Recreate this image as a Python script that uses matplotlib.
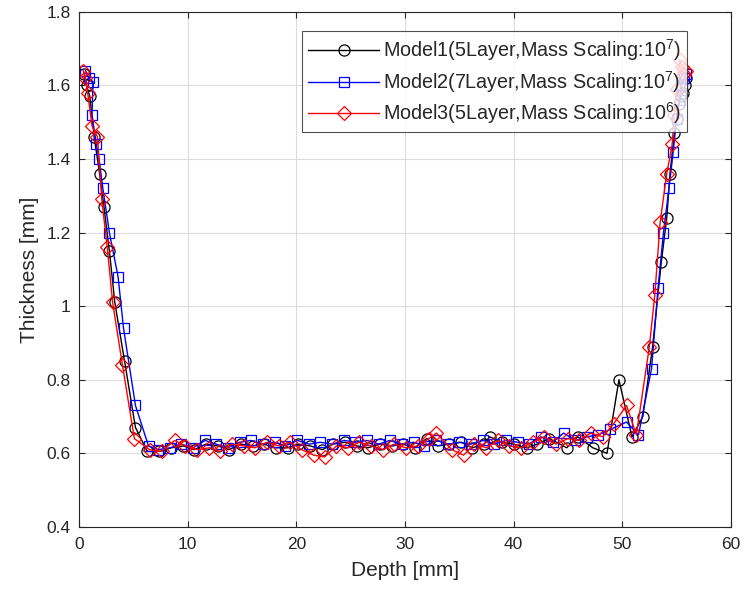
import matplotlib
matplotlib.use("Agg")
import matplotlib.pyplot as plt

plt.rcParams["font.family"] = ["Liberation Sans", "DejaVu Sans"]
plt.rcParams["mathtext.fontset"] = "custom"
plt.rcParams["mathtext.rm"] = "Liberation Sans"

# Model1: 5 layer, mass scaling 1e7 (black circles)
m1_x = [0.5, 0.7, 1.0, 1.4, 1.9, 2.3, 2.8, 3.3, 4.2, 5.2, 6.3, 7.4, 8.5, 9.6, 10.6,
        11.7, 12.8, 13.8, 14.9, 16.0, 17.0, 18.1, 19.2, 20.2, 21.3, 22.4, 23.4, 24.5,
        25.6, 26.6, 27.7, 28.8, 29.8, 30.9, 32.0, 33.0, 34.1, 35.2, 36.2, 37.3, 37.8,
        38.9, 40.0, 41.2, 42.2, 43.3, 44.9, 45.9, 47.3, 48.6, 49.7, 50.9, 51.9, 52.8,
        53.6, 54.1, 54.4, 54.8, 55.0, 55.2, 55.4, 55.6, 55.8, 55.9]
m1_y = [1.63, 1.60, 1.57, 1.46, 1.36, 1.27, 1.15, 1.01, 0.85, 0.67, 0.605, 0.605,
        0.615, 0.62, 0.61, 0.625, 0.62, 0.61, 0.625, 0.62, 0.625, 0.615, 0.615, 0.625,
        0.62, 0.61, 0.625, 0.63, 0.62, 0.615, 0.625, 0.62, 0.625, 0.615, 0.64, 0.62,
        0.625, 0.63, 0.615, 0.625, 0.645, 0.63, 0.625, 0.615, 0.625, 0.64, 0.615,
        0.645, 0.615, 0.60, 0.80, 0.645, 0.70, 0.89, 1.12, 1.24, 1.36, 1.47, 1.51,
        1.55, 1.57, 1.58, 1.60, 1.62]

# Model2: 7 layer, mass scaling 1e7 (blue squares)
m2_x = [0.6, 0.9, 1.3, 1.2, 1.6, 1.85, 2.2, 2.8, 3.6, 4.1, 5.2, 6.4, 7.3, 8.4, 9.4,
        10.5, 11.6, 12.6, 13.7, 14.8, 15.8, 16.9, 18.0, 19.0, 20.1, 21.2, 22.2, 23.3,
        24.4, 25.4, 26.5, 27.6, 28.6, 29.7, 30.8, 31.8, 32.9, 34.0, 35.0, 36.1, 37.2,
        38.2, 39.3, 40.4, 41.4, 42.5, 43.6, 44.6, 45.7, 46.8, 47.8, 48.9, 50.4, 51.5,
        52.7, 53.3, 53.8, 54.3, 54.7, 55.0, 55.3, 55.5, 55.7, 55.9]
m2_y = [1.64, 1.62, 1.61, 1.52, 1.44, 1.40, 1.32, 1.20, 1.08, 0.94, 0.73, 0.62,
        0.61, 0.615, 0.625, 0.615, 0.635, 0.625, 0.615, 0.63, 0.635, 0.625, 0.63,
        0.62, 0.635, 0.625, 0.63, 0.625, 0.635, 0.63, 0.635, 0.625, 0.635, 0.625,
        0.63, 0.62, 0.635, 0.625, 0.63, 0.625, 0.635, 0.625, 0.635, 0.63, 0.625,
        0.645, 0.63, 0.655, 0.635, 0.645, 0.65, 0.665, 0.685, 0.65, 0.83, 1.05, 1.20,
        1.32, 1.42, 1.51, 1.56, 1.60, 1.62, 1.63]

# Model3: 5 layer, mass scaling 1e6 (red diamonds)
m3_x = [0.4, 0.6, 0.8, 1.2, 1.7, 2.1, 2.6, 3.1, 4.0, 5.1, 6.5, 7.6, 8.8, 9.8, 10.9,
        12.0, 13.0, 14.1, 15.2, 16.2, 17.3, 18.4, 19.4, 20.5, 21.6, 22.6, 23.7, 24.8,
        25.8, 26.9, 28.0, 29.0, 30.1, 31.2, 32.2, 32.9, 34.3, 35.4, 36.4, 37.5, 38.6,
        39.6, 40.7, 41.8, 42.8, 43.9, 45.0, 46.0, 47.1, 48.2, 49.2, 50.4, 51.3, 52.5,
        53.0, 53.5, 54.1, 54.6, 54.8, 55.0, 55.3, 55.5, 55.7, 55.9]
m3_y = [1.64, 1.62, 1.58, 1.49, 1.46, 1.29, 1.16, 1.01, 0.84, 0.64, 0.61, 0.605,
        0.635, 0.62, 0.61, 0.615, 0.605, 0.625, 0.62, 0.615, 0.63, 0.62, 0.63, 0.61,
        0.595, 0.59, 0.62, 0.615, 0.63, 0.62, 0.61, 0.625, 0.615, 0.62, 0.64, 0.655,
        0.61, 0.595, 0.625, 0.615, 0.635, 0.62, 0.615, 0.63, 0.645, 0.625, 0.64,
        0.635, 0.655, 0.645, 0.68, 0.73, 0.65, 0.89, 1.03, 1.23, 1.36, 1.44, 1.52,
        1.59, 1.67, 1.65, 1.63, 1.64]

labels = [r"Model1(5Layer,Mass Scaling:10$^{\mathregular{7}}$)",
          r"Model2(7Layer,Mass Scaling:10$^{\mathregular{7}}$)",
          r"Model3(5Layer,Mass Scaling:10$^{\mathregular{6}}$)"]

AX = "#262626"

fig = plt.figure(figsize=(7.45, 5.94), dpi=100)
ax = fig.add_axes([0.106, 0.113, 0.875, 0.867])

ax.plot(m1_x, m1_y, color="black", lw=1.0, marker="o", ms=8, mfc="none",
        mew=0.9, label=labels[0])
ax.plot(m2_x, m2_y, color="blue", lw=1.0, marker="s", ms=7, mfc="none",
        mew=0.9, label=labels[1])
ax.plot(m3_x, m3_y, color="red", lw=1.0, marker="D", ms=7, mfc="none",
        mew=0.9, label=labels[2])

ax.set_xlim(0, 60)
ax.set_ylim(0.4, 1.8)
ax.set_xticks([0, 10, 20, 30, 40, 50, 60])
ax.set_yticks([0.4, 0.6, 0.8, 1.0, 1.2, 1.4, 1.6, 1.8])
ax.set_yticklabels(["0.4", "0.6", "0.8", "1", "1.2", "1.4", "1.6", "1.8"])
ax.grid(True, color="#dcdcdc", lw=0.8)
ax.set_axisbelow(True)
ax.tick_params(direction="in", top=True, right=True, colors=AX,
               labelsize=12.5, length=4)
ax.tick_params(axis="x", pad=7)
ax.tick_params(axis="y", pad=6)
for s in ax.spines.values():
    s.set_color(AX)
    s.set_linewidth(0.8)

ax.set_xlabel("Depth [mm]", fontsize=15, color=AX, labelpad=7)
ax.set_ylabel("Thickness [mm]", fontsize=15, color=AX, labelpad=5)

leg = ax.legend(loc="upper right", bbox_to_anchor=(0.933, 0.962), fontsize=14.2,
                handlelength=3.6, frameon=True, fancybox=False, borderpad=0.3,
                labelspacing=0.28, handletextpad=0.2, borderaxespad=0)
leg.get_frame().set_edgecolor(AX)
leg.get_frame().set_linewidth(0.8)
for t in leg.get_texts():
    t.set_color(AX)

fig.savefig("out.png", dpi=100)
